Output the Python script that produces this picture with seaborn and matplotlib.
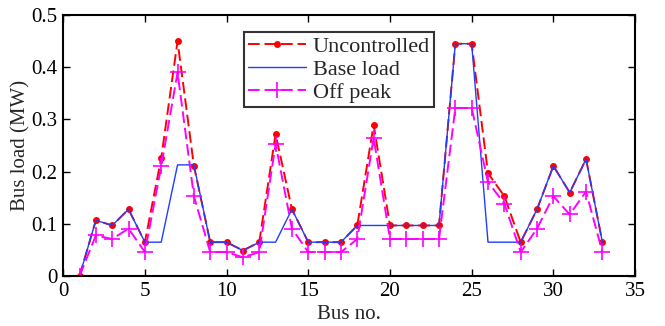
import numpy as np
import pandas as pd
import matplotlib
matplotlib.use("Agg")
import matplotlib.pyplot as plt
import seaborn as sns

# Bus numbers and load per bus (MW)
bus = list(range(1, 34))
uncontrolled = [0, 0.107, 0.097, 0.128, 0.065, 0.226, 0.45, 0.211, 0.065, 0.065,
                0.049, 0.065, 0.272, 0.128, 0.065, 0.065, 0.065, 0.097, 0.29, 0.097,
                0.097, 0.097, 0.097, 0.445, 0.445, 0.197, 0.153, 0.065, 0.128, 0.211,
                0.16, 0.224, 0.065]
base_load = [0, 0.107, 0.097, 0.128, 0.065, 0.065, 0.213, 0.213, 0.065, 0.065,
             0.049, 0.065, 0.065, 0.128, 0.065, 0.065, 0.065, 0.097, 0.097, 0.097,
             0.097, 0.097, 0.097, 0.445, 0.445, 0.065, 0.065, 0.065, 0.128, 0.211,
             0.16, 0.224, 0.065]
off_peak = [0, 0.078, 0.071, 0.091, 0.046, 0.21, 0.39, 0.153, 0.046, 0.046,
            0.036, 0.046, 0.253, 0.091, 0.046, 0.046, 0.046, 0.071, 0.265, 0.071,
            0.071, 0.071, 0.071, 0.322, 0.322, 0.18, 0.139, 0.046, 0.091, 0.153,
            0.118, 0.162, 0.046]

xticks = [0, 5, 10, 15, 20, 25, 30, 35]
yticks = [0, 0.1, 0.2, 0.3, 0.4, 0.5]
ytick_labels = ["0", "0.1", "0.2", "0.3", "0.4", "0.5"]

sns.set_style("ticks")
plt.rcParams["font.family"] = ["Liberation Serif", "DejaVu Serif"]

fig = plt.figure(figsize=(6.65, 3.26), dpi=100)
ax = fig.add_axes([0.095, 0.153, 0.86, 0.801])

sns.lineplot(x=bus, y=uncontrolled, ax=ax, color="red", linestyle=(0, (6, 2.5)),
             linewidth=1.4, marker="o", markersize=5, markeredgewidth=0,
             label="Uncontrolled")
sns.lineplot(x=bus, y=base_load, ax=ax, color="#1f3fff", linestyle="-",
             linewidth=1.0, label="Base load")
sns.lineplot(x=bus, y=off_peak, ax=ax, color="magenta", linestyle=(0, (6, 2.5)),
             linewidth=1.4, marker="+", markersize=11, markeredgewidth=1.2,
             markeredgecolor="magenta", label="Off peak")

ax.set_xlim(0, 35)
ax.set_ylim(0, 0.5)
ax.set_xticks(xticks)
ax.set_xticklabels([str(t) for t in xticks])
ax.set_yticks(yticks)
ax.set_yticklabels(ytick_labels)
ax.tick_params(direction="in", top=True, right=True, length=5, width=1,
               labelsize=15, colors="black", pad=4)
for s in ax.spines.values():
    s.set_linewidth(1.5)
    s.set_color("black")

ax.set_xlabel("Bus no.", fontsize=15, labelpad=3)
ax.set_ylabel("Bus load (MW)", fontsize=15, labelpad=1)

leg = ax.legend(loc="upper left", bbox_to_anchor=(0.316, 0.935), fontsize=16,
                frameon=True, fancybox=False, handlelength=2.6,
                borderpad=0.2, labelspacing=0.1, handletextpad=0.3,
                borderaxespad=0)
leg.get_frame().set_edgecolor("black")
leg.get_frame().set_linewidth(1.5)

fig.savefig("out.png", dpi=100)
